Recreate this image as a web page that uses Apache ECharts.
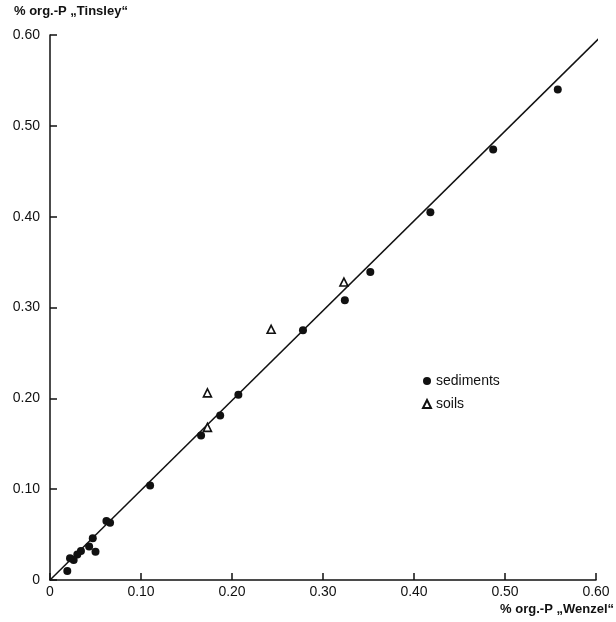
<!DOCTYPE html>
<html>
<head>
<meta charset="utf-8">
<script src="https://cdn.jsdelivr.net/npm/echarts@6/dist/echarts.min.js"></script>
<style>
  html, body { margin: 0; padding: 0; background: #fff; }
  #chart { width: 616px; height: 622px; }
</style>
</head>
<body>
<div id="chart"></div>
<script>
// values
const sedimentsX = [0.558, 0.487, 0.418, 0.352, 0.324, 0.278, 0.207, 0.187, 0.166, 0.110, 0.062, 0.066, 0.047, 0.043, 0.050, 0.034, 0.030, 0.026, 0.022, 0.019]
const sedimentsY = [0.540, 0.474, 0.405, 0.339, 0.308, 0.275, 0.204, 0.181, 0.159, 0.104, 0.065, 0.063, 0.046, 0.037, 0.031, 0.032, 0.028, 0.022, 0.024, 0.010]
const soilsX = [0.323, 0.243, 0.173, 0.173]
const soilsY = [0.328, 0.276, 0.206, 0.168]
const fitX = [0, 0.605]
const fitY = [0, 0.598]
const tickLabels = ['0', '0.10', '0.20', '0.30', '0.40', '0.50', '0.60']

const zip = (xs, ys) => xs.map((x, i) => [x, ys[i]])
const font = 'Liberation Sans, Arial, sans-serif'

const chart = echarts.init(document.getElementById('chart'))

const axisCommon = {
  type: 'value',
  min: 0,
  max: 0.6,
  interval: 0.1,
  splitLine: { show: false },
  axisLine: { lineStyle: { color: '#111', width: 1.5 } },
  axisTick: { inside: true, length: 7, lineStyle: { color: '#111', width: 1.5 } },
  axisLabel: {
    color: '#111',
    fontSize: 14,
    fontFamily: font,
    formatter: (v) => tickLabels[Math.round(v * 10)]
  }
}

chart.setOption({
  animation: false,
  backgroundColor: '#fff',
  grid: { left: 50, right: 20, top: 35, bottom: 42 },
  xAxis: Object.assign({}, axisCommon, {
    axisLabel: Object.assign({}, axisCommon.axisLabel, { margin: 5 })
  }),
  yAxis: Object.assign({}, axisCommon, {
    axisLabel: Object.assign({}, axisCommon.axisLabel, { margin: 10 })
  }),
  legend: {
    data: ['sediments', 'soils'],
    orient: 'vertical',
    left: 417,
    top: 369,
    itemWidth: 8,
    itemHeight: 8,
    itemGap: 9,
    textStyle: { color: '#111', fontSize: 14, fontFamily: font, letterSpacing: 1.6 }
  },
  graphic: [
    {
      type: 'text', left: 14, top: 5,
      style: { text: '% org.-P „Tinsley“', fill: '#111', font: 'bold 13px ' + font }
    },
    {
      type: 'text', right: 2, top: 603,
      style: { text: '% org.-P „Wenzel“', fill: '#111', font: 'bold 13px ' + font }
    }
  ],
  series: [
    {
      name: 'fit',
      type: 'line',
      data: zip(fitX, fitY),
      showSymbol: false,
      lineStyle: { color: '#111', width: 1.5 },
      z: 1
    },
    {
      name: 'sediments',
      type: 'scatter',
      data: zip(sedimentsX, sedimentsY),
      symbol: 'circle',
      symbolSize: 8,
      itemStyle: { color: '#111', opacity: 1 },
      z: 3
    },
    {
      name: 'soils',
      type: 'scatter',
      data: zip(soilsX, soilsY),
      symbol: 'triangle',
      symbolSize: 8,
      itemStyle: { color: '#fff', borderColor: '#111', borderWidth: 1.6, opacity: 1 },
      z: 3
    }
  ]
})
</script>
</body>
</html>
